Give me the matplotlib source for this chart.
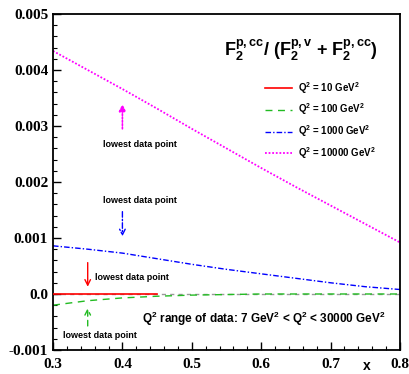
import numpy as np
import matplotlib
matplotlib.use("Agg")
import matplotlib.pyplot as plt
from matplotlib.ticker import MultipleLocator, FixedFormatter, FixedLocator

# ratio F2 charm / total
x = [0.30, 0.35, 0.40, 0.45, 0.50, 0.55, 0.60, 0.65, 0.70, 0.75, 0.80]
q10 = [0.0, 0.0, 0.0, 0.0]
x10 = [0.30, 0.35, 0.40, 0.45]
q100 = [-0.00020, -0.00012, -0.00007, -0.00004, -0.00002, -0.00001, 0.0, 0.0, 0.0, 0.0, 0.0]
q1000 = [0.00086, 0.00080, 0.00073, 0.00063, 0.00053, 0.00044, 0.00036, 0.00028, 0.00020, 0.00013, 0.00008]
q10000 = [0.00434, 0.00400, 0.00366, 0.00331, 0.00295, 0.00260, 0.00225, 0.00191, 0.00158, 0.00125, 0.00092]

labels = ["Q$^2$ = 10 GeV$^2$", "Q$^2$ = 100 GeV$^2$",
          "Q$^2$ = 1000 GeV$^2$", "Q$^2$ = 10000 GeV$^2$"]
xticks = [0.3, 0.4, 0.5, 0.6, 0.7, 0.8]
xticklabels = ["0.3", "0.4", "0.5", "0.6", "0.7", "0.8"]
yticks = [-0.001, 0.0, 0.001, 0.002, 0.003, 0.004, 0.005]
yticklabels = ["-0.001", "0.0", "0.001", "0.002", "0.003", "0.004", "0.005"]

plt.rcParams['mathtext.fontset'] = 'custom'
plt.rcParams['mathtext.rm'] = 'Liberation Sans:bold'
plt.rcParams['mathtext.it'] = 'Liberation Sans:bold'
plt.rcParams['mathtext.bf'] = 'Liberation Sans:bold'

fig = plt.figure(figsize=(4.09, 3.74), dpi=100)
ax = fig.add_axes([0.1296, 0.0642, 0.8484, 0.8984])

ax.axhline(0, color="#999999", lw=1, ls=(0, (3, 3)), zorder=1)
ax.plot(x10, q10, color="red", lw=1.2, label=labels[0], zorder=3)
ax.plot(x, q100, color="#22bb22", lw=1, ls=(0, (5, 4)), label=labels[1])
ax.plot(x, q1000, color="blue", lw=1, ls=(0, (4, 1.5, 1, 1.5)), label=labels[2])
ax.plot(x, q10000, color="magenta", lw=1.3, ls=(0, (1, 1)), label=labels[3])

ax.set_xlim(0.3, 0.8)
ax.set_ylim(-0.001, 0.005)

# "lowest data point" markers
txt = dict(fontsize=6.5, fontweight="bold", family="Liberation Sans")
ax.annotate("", xy=(0.4, 0.00344), xytext=(0.4, 0.0029),
            arrowprops=dict(arrowstyle="-|>", color="magenta", lw=1.2, ls=(0, (1, 1))))
ax.text(0.425, 0.00267, "lowest data point", ha="center", va="center", **txt)
ax.annotate("", xy=(0.4, 0.00098), xytext=(0.4, 0.00152),
            arrowprops=dict(arrowstyle="->", color="blue", lw=1, ls=(0, (4, 1.5, 1, 1.5))))
ax.text(0.425, 0.00167, "lowest data point", ha="center", va="center", **txt)
ax.annotate("", xy=(0.35, 0.00008), xytext=(0.35, 0.00061),
            arrowprops=dict(arrowstyle="->", color="red", lw=1))
ax.text(0.3605, 0.0003, "lowest data point", ha="left", va="center", **txt)
ax.annotate("", xy=(0.35, -0.0002), xytext=(0.35, -0.00062),
            arrowprops=dict(arrowstyle="->", color="#22bb22", lw=1, ls=(0, (4, 3))))
ax.text(0.3144, -0.00075, "lowest data point", ha="left", va="center", **txt)

ax.text(0.657, 0.00435, r"F$_2^{p,cc}$/ (F$_2^{p,v}$ + F$_2^{p,cc}$)",
        ha="center", va="center", fontsize=13, family="Liberation Sans", fontweight="bold")
ax.text(0.428, -0.00045, r"Q$^2$ range of data: 7 GeV$^2$ < Q$^2$ < 30000 GeV$^2$",
        ha="left", va="center", fontsize=8.5, family="Liberation Sans", fontweight="bold")

leg = ax.legend(loc="upper left", bbox_to_anchor=(0.585, 0.83), frameon=False,
                prop={"family": "Liberation Sans", "weight": "bold", "size": 7},
                handlelength=2.8, labelspacing=0.6, handletextpad=0.6)

ax.xaxis.set_major_locator(FixedLocator(xticks))
ax.xaxis.set_major_formatter(FixedFormatter(xticklabels))
ax.xaxis.set_minor_locator(MultipleLocator(0.02))
ax.yaxis.set_major_locator(FixedLocator(yticks))
ax.yaxis.set_major_formatter(FixedFormatter(yticklabels))
ax.yaxis.set_minor_locator(MultipleLocator(0.0002))
ax.tick_params(which="both", direction="in", top=False, right=False)
ax.tick_params(which="major", length=6, width=1)
ax.tick_params(which="minor", length=3, width=0.8)
ax.tick_params(axis="x", which="major", pad=6)
for lab in ax.get_xticklabels() + ax.get_yticklabels():
    lab.set_family("Liberation Serif")
    lab.set_fontweight("bold")
    lab.set_fontsize(11)
for s in ax.spines.values():
    s.set_linewidth(1.3)
ax.text(0.905, -0.048, "x", transform=ax.transAxes, ha="center", va="center",
        fontsize=10, family="Liberation Sans", fontweight="bold")

fig.savefig("out.png", dpi=100)
